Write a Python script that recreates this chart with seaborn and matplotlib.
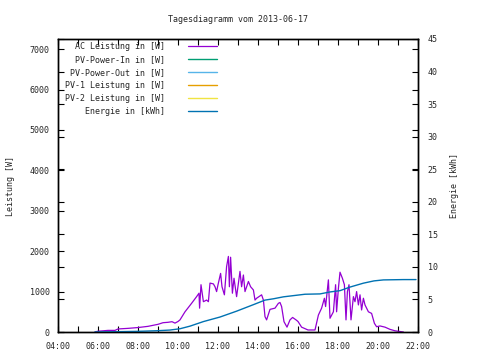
import numpy as np
import pandas as pd
import seaborn as sns
import matplotlib.pyplot as plt

# Tagesdaten 2013-06-17 (Uhrzeit in Stunden)
ac_time = [5.85, 6.0, 6.15, 6.5, 6.85, 7.0, 7.5, 8.0, 8.5, 9.0, 9.25, 9.5, 9.7, 9.85,
           10.0, 10.1, 10.35, 10.68, 10.93, 11.05, 11.08, 11.15, 11.27, 11.43, 11.52,
           11.6, 11.77, 11.85, 11.93, 12.0, 12.13, 12.2, 12.32, 12.43, 12.52, 12.57,
           12.63, 12.72, 12.8, 12.93, 13.1, 13.18, 13.27, 13.35, 13.52, 13.63, 13.77,
           13.85, 13.93, 14.18, 14.27, 14.35, 14.43, 14.6, 14.85, 15.02, 15.1, 15.18,
           15.3, 15.45, 15.6, 15.73, 15.9, 16.0, 16.18, 16.5, 16.85, 17.02, 17.18,
           17.32, 17.38, 17.52, 17.6, 17.77, 17.88, 17.93, 18.02, 18.1, 18.22, 18.32,
           18.4, 18.47, 18.55, 18.65, 18.77, 18.85, 18.93, 19.02, 19.1, 19.18, 19.27,
           19.35, 19.52, 19.68, 19.82, 19.93, 20.1, 20.35, 20.6, 20.85, 21.27]
ac_power = [0, 20, 25, 40, 40, 75, 90, 110, 140, 190, 230, 240, 255, 220,
            260, 300, 500, 710, 875, 960, 590, 1170, 750, 790, 750,
            1210, 1190, 1120, 1000, 1170, 1450, 1120, 920, 1620, 1870, 1120,
            1850, 960, 1330, 875, 1500, 1120, 1410, 1000, 1250, 1120, 1040,
            790, 835, 920, 790, 380, 300, 560, 590, 710, 730, 630,
            255, 120, 300, 360, 300, 260, 120, 50, 50, 420, 590,
            835, 630, 1290, 340, 500, 1170, 500, 1080, 1480, 1330, 1170,
            300, 1000, 1170, 300, 875, 750, 1000, 670, 920, 545, 835,
            670, 500, 460, 215, 130, 150, 120, 65, 30, 0]

en_time = [5.85, 7.0, 8.0, 9.0, 9.6, 10.1, 10.6, 11.27, 12.1, 12.93, 13.77, 14.35,
           14.77, 15.27, 16.35, 17.1, 17.6, 18.1, 18.6, 19.27, 19.8, 20.27, 21.27, 21.9]
en_kwh = [0, 0.05, 0.1, 0.2, 0.3, 0.5, 0.9, 1.6, 2.3, 3.2, 4.2, 4.9,
          5.1, 5.4, 5.8, 5.85, 6.15, 6.35, 6.9, 7.5, 7.85, 8.0, 8.05, 8.05]

# keine Daten fuer diese Reihen
pv_in, pv_out, pv1, pv2 = [], [], [], []

hour_ticks = list(range(4, 23))
hour_labels = ["%02d:00" % h if h % 2 == 0 else "" for h in hour_ticks]

sns.set_style("ticks")
plt.rcParams['font.family'] = ['DejaVu Sans Mono']
plt.rcParams['font.size'] = 6

fig = plt.figure(figsize=(4.8, 3.6), dpi=100)
ax = fig.add_axes([58 / 480, 28 / 360, 360 / 480, 293 / 360])
ax2 = ax.twinx()

df_ac = pd.DataFrame({'t': ac_time, 'p': ac_power})
df_en = pd.DataFrame({'t': en_time, 'e': en_kwh})

sns.lineplot(data=df_ac, x='t', y='p', ax=ax, color='#9400d3', lw=0.9,
             label='AC Leistung in [W]', legend=False)
ax.plot(pv_in, pv_in, color='#009e73', lw=1, label='PV-Power-In in [W]')
ax.plot(pv_out, pv_out, color='#56b4e9', lw=1, label='PV-Power-Out in [W]')
ax.plot(pv1, pv1, color='#e69f00', lw=1, label='PV-1 Leistung in [W]')
ax.plot(pv2, pv2, color='#f0e442', lw=1, label='PV-2 Leistung in [W]')
sns.lineplot(data=df_en, x='t', y='e', ax=ax2, color='#0072b2', lw=1,
             label='Energie in [kWh]', legend=False)

ax.set_xlim(4, 22)
ax.set_ylim(0, 7250)
ax2.set_ylim(0, 45)
ax.set_xticks(hour_ticks)
ax.set_xticklabels(hour_labels)
ax.set_yticks(range(0, 7001, 1000))
ax2.set_yticks(range(0, 46, 5))

ax.set_title('Tagesdiagramm vom 2013-06-17', fontsize=6, pad=12)
ax.set_xlabel('')
ax.set_ylabel('Leistung [W]', fontsize=6)
ax2.set_ylabel('Energie [kWh]', fontsize=6)
ax.yaxis.set_label_coords(-0.12, 0.5)
ax2.yaxis.set_label_coords(1.088, 0.5)

ax.tick_params(axis='both', direction='in', length=4, width=0.8, labelsize=6,
               top=True, right=True, color='black')
ax.tick_params(axis='x', pad=7)
ax.tick_params(axis='y', pad=6)
ax2.tick_params(axis='y', direction='in', length=4, width=0.8, labelsize=6,
                left=True, right=True, pad=7, color='black')

for a in (ax, ax2):
    for s in a.spines.values():
        s.set_visible(True)
        s.set_linewidth(1)
        s.set_color('black')

h1, l1 = ax.get_legend_handles_labels()
h2, l2 = ax2.get_legend_handles_labels()
ax2.legend(h1 + h2, l1 + l2, loc='upper left', bbox_to_anchor=(65 / 480, 318 / 360),
           bbox_transform=fig.transFigure, frameon=False, markerfirst=False,
           fontsize=6, handlelength=3.4, handletextpad=2.8, labelspacing=0.47,
           borderpad=0, borderaxespad=0)

fig.savefig('out.png', dpi=100)
